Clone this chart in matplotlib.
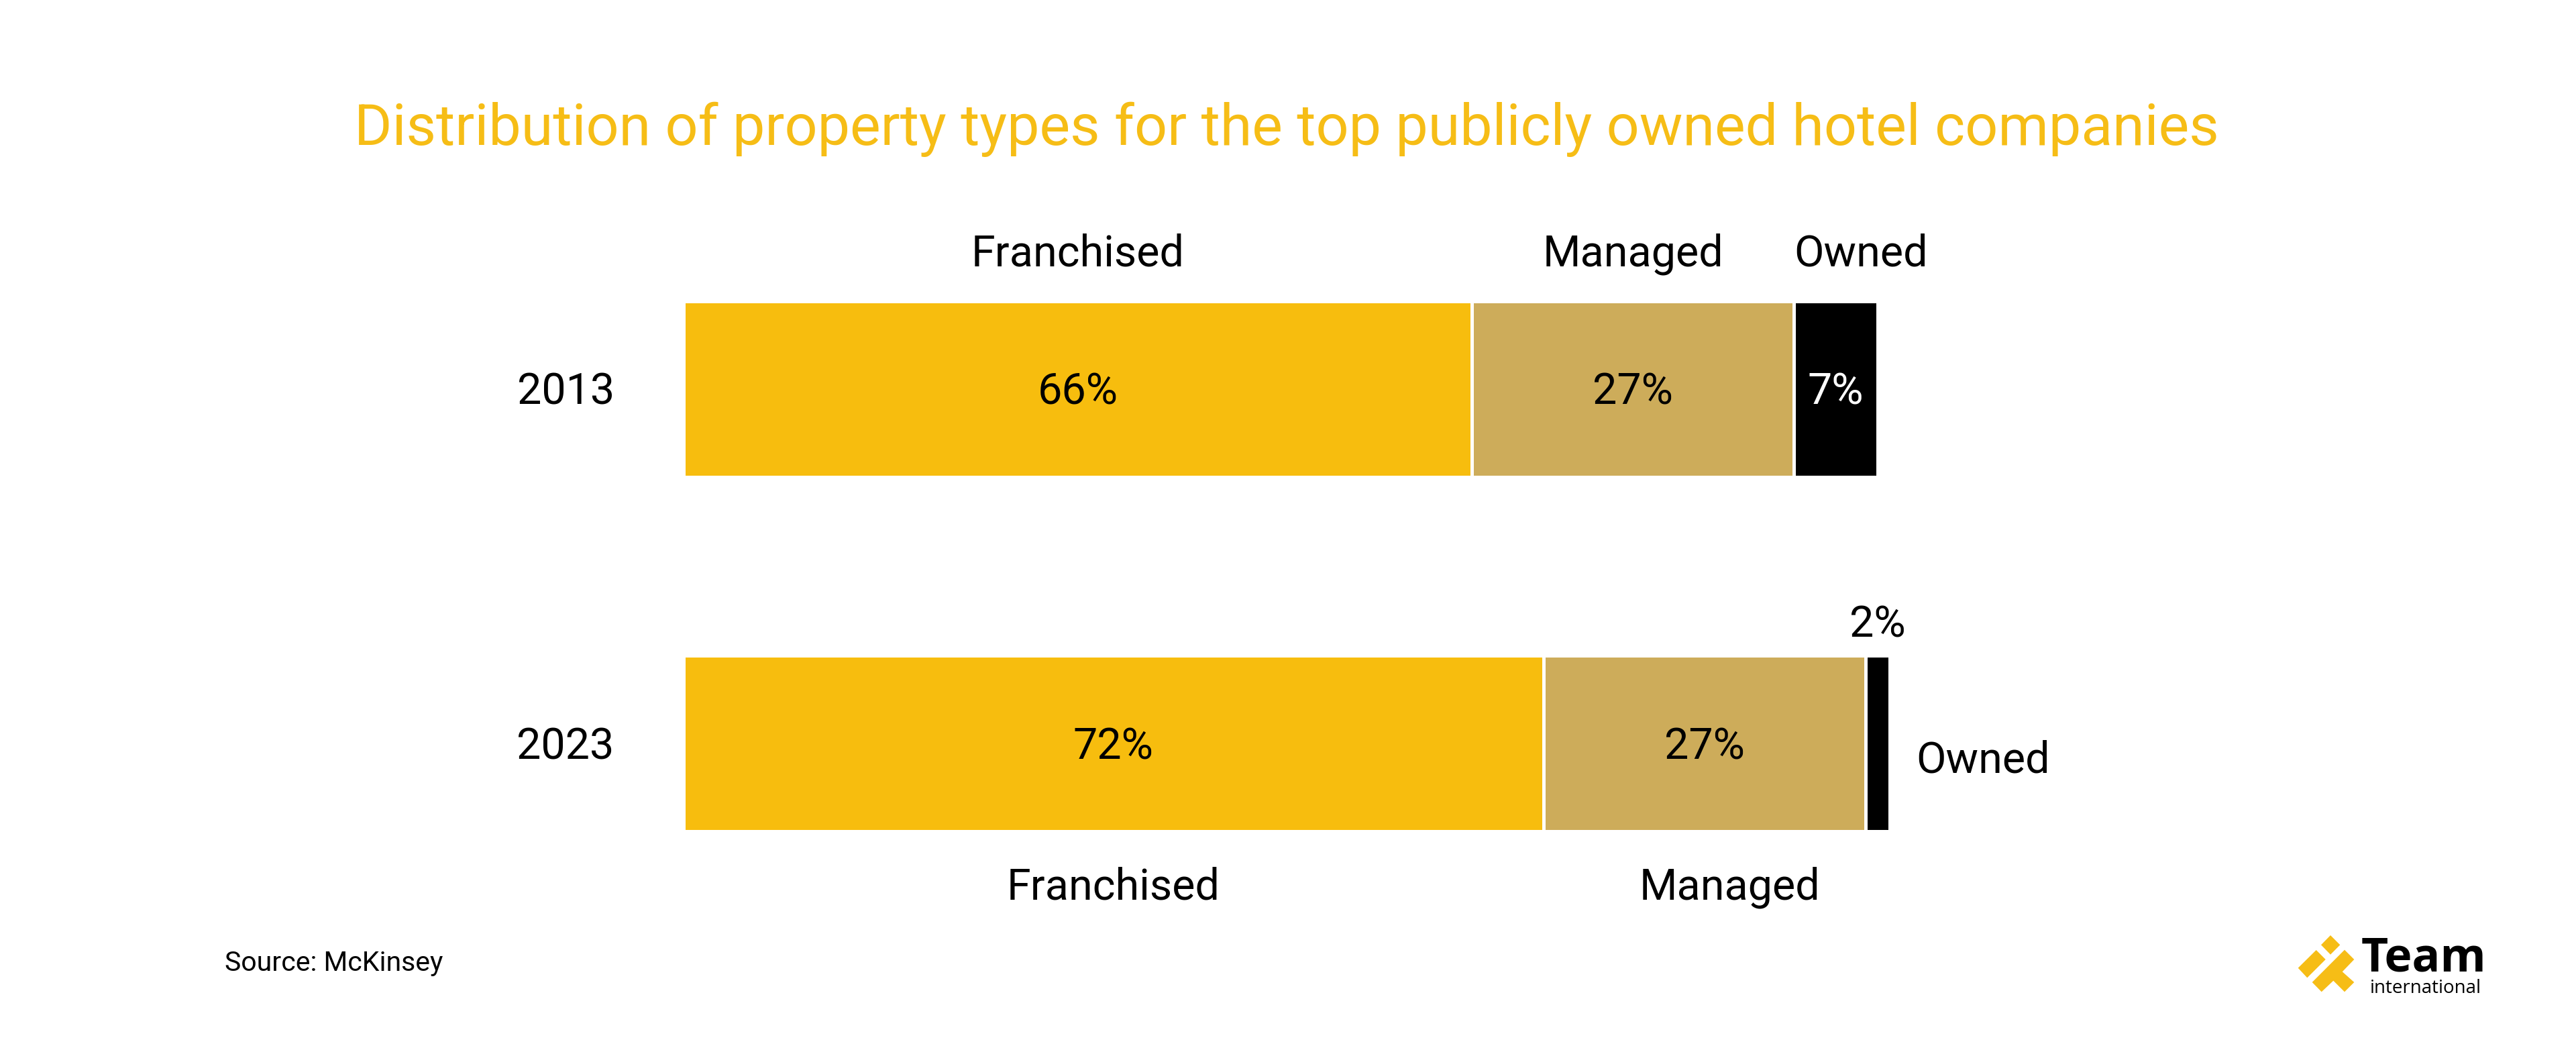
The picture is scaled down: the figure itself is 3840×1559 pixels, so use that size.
import matplotlib
matplotlib.use("Agg")
import matplotlib.pyplot as plt
from matplotlib.patches import Polygon
import numpy as np

# --------- data ------------
years = ["2013", "2023"]
categories = ["Franchised", "Managed", "Owned"]
franchised = [66, 72]
managed = [27, 27]
owned = [7, 2]

colors = {"Franchised": "#F7BD0E", "Managed": "#CDAC5A", "Owned": "#000000"}
yellow = "#F6BD16"

W, H = 3840, 1559
plt.rcParams["font.family"] = ["Roboto", "DejaVu Sans"]

fig = plt.figure(figsize=(W / 100, H / 100), dpi=100, facecolor="white")


def px(x, y):
    # pixel position (from top left) -> figure fraction
    return x / W, 1 - y / H


# axes covering the whole figure, 17.8 px per percent, bar 2013 at y=0
ppp = 17.8
x0 = 1019
ax = fig.add_axes([0, 0, 1, 1])
ax.set_xlim(-x0 / ppp, (W - x0) / ppp)
ax.set_ylim((H - 580) / 528, -580 / 528)
ax.axis("off")

ypos = np.arange(len(years))
bar_h = 0.496
values = {"Franchised": franchised, "Managed": managed, "Owned": owned}
lefts = np.zeros(len(years))
for cat in categories:
    vals = np.array(values[cat], dtype=float)
    ax.barh(ypos, vals, left=lefts, height=bar_h, color=colors[cat],
            edgecolor="white", linewidth=3.6)
    lefts += vals

fs = 46.5
txt = dict(fontsize=fs, color="black", va="baseline")
base = 23 / 528  # baseline offset from bar centre

# year labels
for i, yr in enumerate(years):
    ax.text(-5.8, ypos[i] + base, yr, ha="right", **txt)

# percentages
for i in range(len(years)):
    start = 0
    for cat in categories:
        v = values[cat][i]
        c = start + v / 2
        if cat == "Owned" and v < 5:
            ax.text(c, ypos[i] - bar_h / 2 - 28 / 528, f"{v}%", ha="center",
                    **txt)
        else:
            col = "white" if cat == "Owned" else "black"
            ax.text(c, ypos[i] + base, f"{v}%", ha="center", fontsize=fs,
                    color=col, va="baseline")
        start += v

# category labels, 2013 above
start = 0
for cat in categories:
    v = values[cat][0]
    off = 2.1 if cat == "Owned" else 0
    ax.text(start + v / 2 + off, -0.3466, cat, ha="center", **txt)
    start += v

# category labels, 2023 below / right
start = 0
for cat in categories:
    v = values[cat][1]
    if cat == "Owned":
        ax.text(start + v + 2.2, 1 + (1152 - 1108) / 528, cat, ha="left",
                **txt)
    else:
        off = 2.1 if cat == "Managed" else 0
        ax.text(start + v / 2 + off, 1.441, cat, ha="center", **txt)
    start += v

# title and source
fig.text(*px(1918, 216), "Distribution of property types for the top "
         "publicly owned hotel companies", ha="center", va="baseline",
         fontsize=62, color=yellow)
fig.text(*px(335, 1447), "Source: McKinsey", ha="left", va="baseline",
         fontsize=29.5, color="black")

# --- logo ---
logo_shapes = [
    [(3474, 1394), (3488.3, 1408.3), (3474, 1422.7), (3460, 1408.3)],
    [(3425.7, 1442.7), (3452.7, 1416), (3466.7, 1430), (3439.3, 1457.3)],
    [(3446.7, 1464), (3495, 1415.7), (3509.3, 1430), (3491.7, 1448.3),
     (3509.3, 1464), (3495, 1478.3), (3478.3, 1461.7), (3460.7, 1478.3)],
]
for shp in logo_shapes:
    pts = [px(x, y) for x, y in shp]
    fig.patches.append(Polygon(pts, closed=True, transform=fig.transFigure,
                               facecolor=yellow, edgecolor="none"))
fig.text(*px(3520, 1448), "Team", ha="left", va="baseline", fontsize=50,
         fontweight="bold", family=["Open Sans", "DejaVu Sans"])
fig.text(*px(3533, 1480), "international", ha="left", va="baseline",
         fontsize=20, family=["Open Sans", "DejaVu Sans"])

plt.savefig("out.png", dpi=100, facecolor="white")
